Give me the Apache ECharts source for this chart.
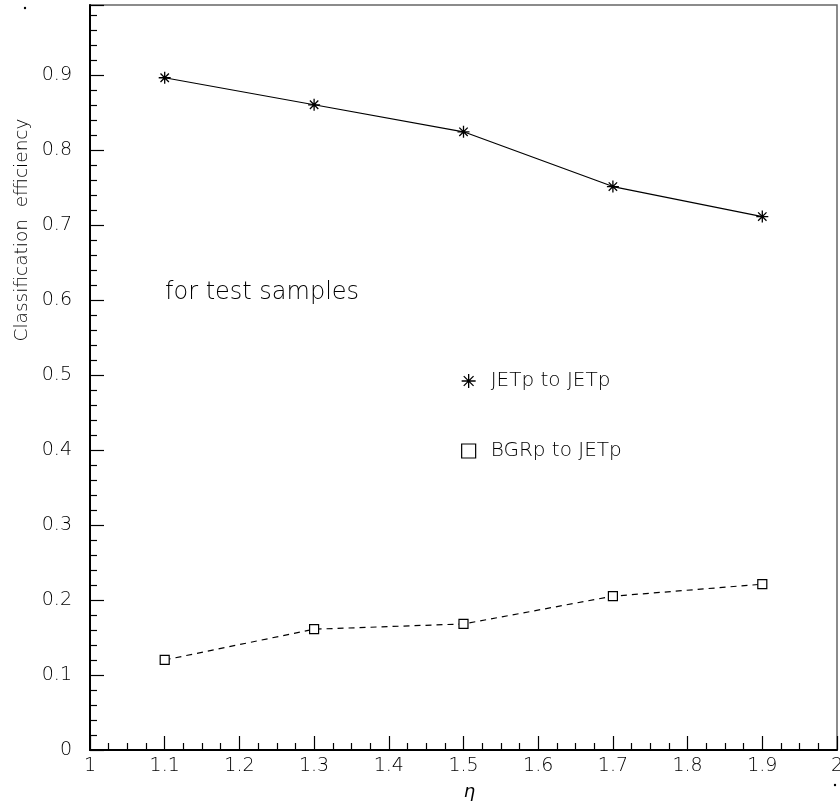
<!DOCTYPE html>
<html>
<head>
<meta charset="utf-8">
<script src="https://cdn.jsdelivr.net/npm/echarts@6/dist/echarts.min.js"></script>
<style>
  html, body { margin: 0; padding: 0; background: #fff; }
  #chart { width: 840px; height: 807px; }
</style>
</head>
<body>
<div id="chart"></div>
<script>
// eta values
var etaValues = [1.1, 1.3, 1.5, 1.7, 1.9];
// classification efficiency
var jetToJet = [0.896, 0.860, 0.824, 0.751, 0.711];
var bgrToJet = [0.120, 0.161, 0.168, 0.205, 0.221];

var seriesNames = ['JETp to JETp', 'BGRp to JETp'];

var starIcon = 'path://M0,-10L0,10M-10,0L10,0M-7,-7L7,7M-7,7L7,-7';

function pairs(xs, ys) {
  return xs.map(function (x, i) { return [x, ys[i]]; });
}

var font = 'DejaVu Sans';
var txtColor = '#000';
var chart = echarts.init(document.getElementById('chart'));

var option = {
  backgroundColor: '#fff',
  animation: false,
  grid: {
    left: 90, right: 3, top: 5, bottom: 57,
    outerBoundsMode: 'none',
    show: true, borderColor: '#666', borderWidth: 1.5
  },
  legend: {
    orient: 'vertical',
    left: 456, top: 366,
    itemGap: 50,
    itemWidth: 14, itemHeight: 14,
    textStyle: { fontFamily: font, fontWeight: 200, fontSize: 20, color: txtColor, padding: [0, 0, 0, 10] },
    data: [
      { name: seriesNames[0], icon: starIcon, itemStyle: { color: '#000', borderColor: '#000', borderWidth: 1.3 } },
      { name: seriesNames[1], icon: 'rect', itemStyle: { color: '#fff', borderColor: '#000', borderWidth: 1.2 } }
    ]
  },
  xAxis: {
    type: 'value',
    min: 1, max: 2, interval: 0.1,
    axisLine: { lineStyle: { color: '#000', width: 2 } },
    axisTick: { inside: true, length: 14, lineStyle: { color: '#000', width: 1.2 } },
    minorTick: { show: true, splitNumber: 4, length: 7, lineStyle: { color: '#000', width: 1.2 } },
    splitLine: { show: false },
    axisLabel: {
      fontFamily: font, fontWeight: 200, fontSize: 19, color: txtColor, margin: 7,
      formatter: function (v) { return +v.toFixed(1) + ''; }
    },
    name: 'η',
    nameLocation: 'middle',
    nameGap: 33,
    nameTextStyle: { fontFamily: font, fontWeight: 200, fontSize: 18, fontStyle: 'italic', color: txtColor, padding: [0, 0, 0, 12] }
  },
  yAxis: {
    type: 'value',
    min: 0, max: 0.993, interval: 0.1,
    axisLine: { lineStyle: { color: '#000', width: 2 } },
    axisTick: { inside: true, length: 14, lineStyle: { color: '#000', width: 1.2 } },
    minorTick: { show: true, splitNumber: 5, length: 7, lineStyle: { color: '#000', width: 1.2 } },
    splitLine: { show: false },
    axisLabel: {
      fontFamily: font, fontWeight: 200, fontSize: 19, color: txtColor, margin: 18,
      showMaxLabel: false,
      formatter: function (v) { return +v.toFixed(1) + ''; }
    }
  },
  graphic: [
    {
      type: 'text', x: 22, y: 230, rotation: Math.PI / 2,
      style: {
        text: 'Classification  efficiency', font: '200 18.5px "DejaVu Sans"', fill: txtColor,
        align: 'center', verticalAlign: 'middle'
      }
    },
    {
      type: 'text', left: 165, top: 281,
      style: { text: 'for test samples', font: '200 24px "DejaVu Sans"', fill: txtColor }
    },
    { type: 'circle', shape: { cx: 25, cy: 8, r: 1.2 }, style: { fill: '#000' } },
    { type: 'circle', shape: { cx: 835, cy: 785, r: 1.2 }, style: { fill: '#000' } }
  ],
  series: [
    {
      name: seriesNames[0],
      type: 'line',
      data: pairs(etaValues, jetToJet),
      symbol: starIcon,
      symbolSize: 12,
      itemStyle: { color: '#000', borderColor: '#000', borderWidth: 1.3 },
      lineStyle: { color: '#000', width: 1.2 },
      z: 3
    },
    {
      name: seriesNames[1],
      type: 'line',
      data: pairs(etaValues, bgrToJet),
      symbol: 'rect',
      symbolSize: 9,
      itemStyle: { color: '#fff', borderColor: '#000', borderWidth: 1.2 },
      lineStyle: { color: '#000', width: 1.2, type: [6, 5] },
      z: 3
    }
  ]
};

chart.setOption(option);
</script>
</body>
</html>
